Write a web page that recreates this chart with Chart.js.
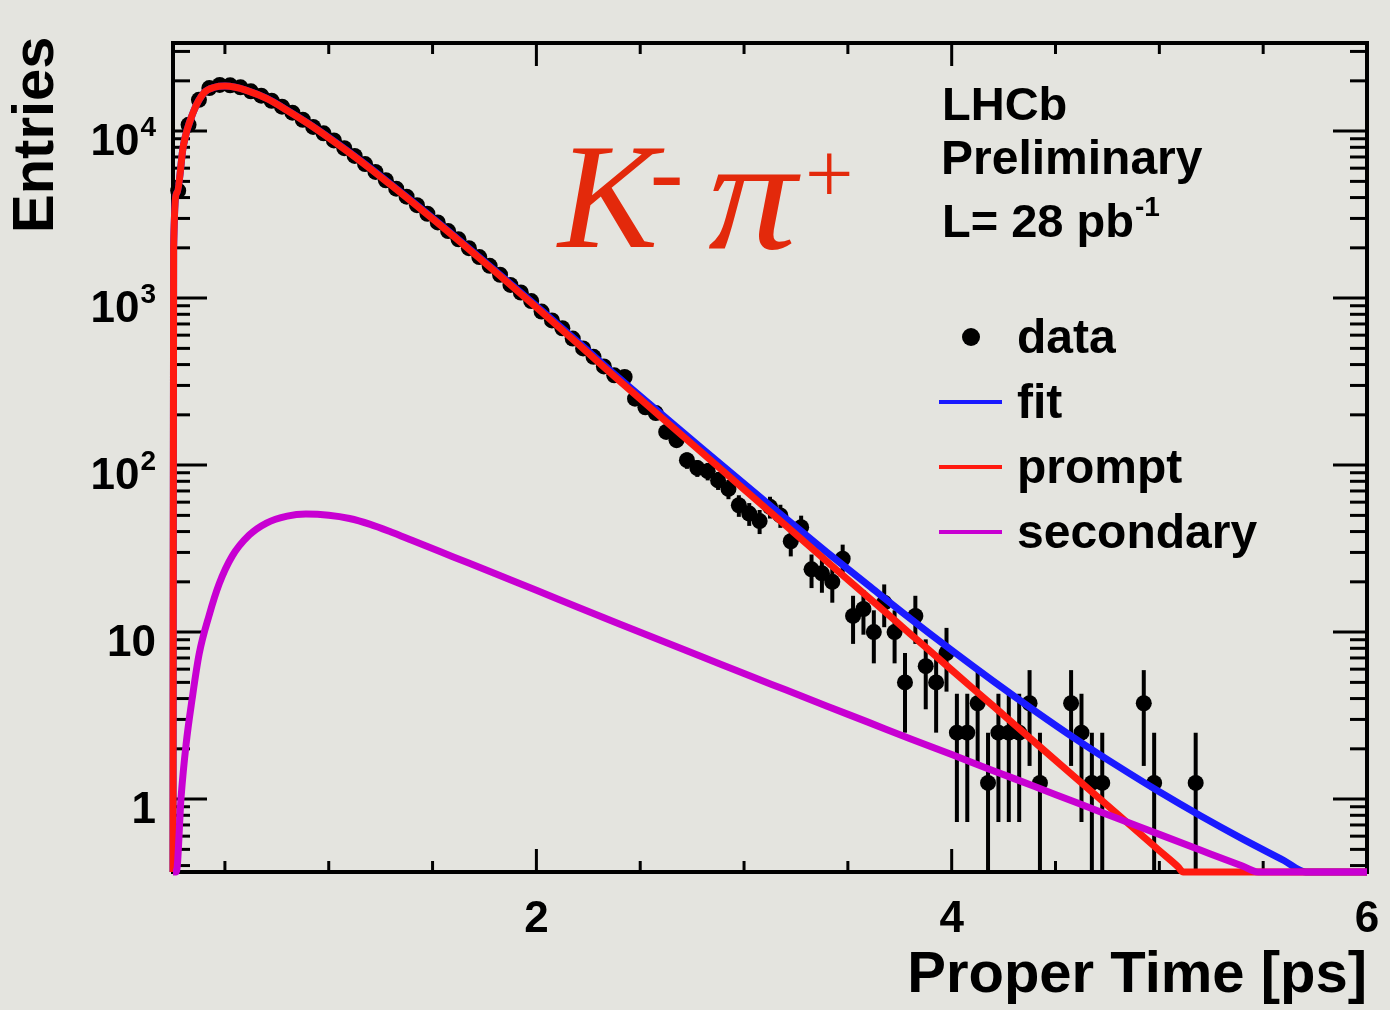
<!DOCTYPE html>
<html>
<head>
<meta charset="utf-8">
<script src="https://cdn.jsdelivr.net/npm/chart.js@4.4.1/dist/chart.umd.min.js"></script>
<style>
  html, body { margin: 0; padding: 0; background: #e4e4df; }
  canvas { display: block; }
</style>
</head>
<body>
<canvas id="myChart" width="1390" height="1010"></canvas>
<script>
// binned data (bin width 0.05 ps), empty bins left out
const dataTime = [
  0.275, 0.325, 0.375, 0.425, 0.475, 0.525, 0.575, 0.625, 0.675, 0.725,
  0.775, 0.825, 0.875, 0.925, 0.975, 1.025, 1.075, 1.125, 1.175, 1.225,
  1.275, 1.325, 1.375, 1.425, 1.475, 1.525, 1.575, 1.625, 1.675, 1.725,
  1.775, 1.825, 1.875, 1.925, 1.975, 2.025, 2.075, 2.125, 2.175, 2.225,
  2.275, 2.325, 2.375, 2.425, 2.475, 2.525, 2.575, 2.625, 2.675, 2.725,
  2.775, 2.825, 2.875, 2.925, 2.975, 3.025, 3.075, 3.125, 3.175, 3.225,
  3.275, 3.325, 3.375, 3.425, 3.475, 3.525, 3.575, 3.625, 3.675, 3.725,
  3.775, 3.825, 3.875, 3.925, 3.975, 4.025, 4.075, 4.125, 4.175, 4.225,
  4.275, 4.325, 4.375, 4.425, 4.575, 4.625, 4.675, 4.725, 4.925, 4.975,
  5.175
];
const dataCount = [
  4400, 10900, 15400, 18100, 18900, 18800, 18300, 17300, 16300, 15200,
  14000, 12900, 11700, 10600, 9700, 8800, 7900, 7100, 6350, 5700,
  5080, 4520, 4050, 3600, 3200, 2840, 2520, 2250, 1990, 1760,
  1560, 1380, 1200, 1080, 960, 830, 735, 660, 572, 500,
  445, 390, 345, 337, 250, 222, 205, 158, 141, 107,
  96, 92, 81, 72, 57.5, 51.25, 46.25, 56.25, 50, 35,
  42.5, 23.75, 22.5, 20, 27.5, 12.5, 13.75, 10, 15, 10,
  5, 12.5, 6.25, 5, 7.5, 2.5, 2.5, 3.75, 1.25, 2.5,
  2.5, 2.5, 3.75, 1.25, 3.75, 2.5, 1.25, 1.25, 3.75, 1.25,
  1.25
];
const dataError = [
  74, 117, 139, 150, 154, 153, 151, 147, 143, 138,
  132, 127, 121, 115, 110, 105, 99, 94, 89, 84,
  80, 75, 71, 67, 63, 60, 56, 53, 50, 47,
  44, 42, 39, 37, 35, 32, 30, 29, 27, 25,
  24, 22, 21, 21, 18, 17, 16, 14, 13, 12,
  11, 11, 10, 9.5, 8.5, 8, 7.6, 8.4, 7.9, 6.6,
  7.3, 5.4, 5.3, 5, 5.9, 4, 4.1, 3.5, 4.3, 3.5,
  2.5, 4, 2.8, 2.5, 3.1, 1.77, 1.77, 2.17, 1.25, 1.77,
  1.77, 1.77, 2.17, 1.25, 2.17, 1.77, 1.25, 1.25, 2.17, 1.25,
  1.25
];

// fitted curves (values under the axis floor sit on it)
const promptTime = [
  0.25, 0.253, 0.27, 0.30, 0.35, 0.40, 0.45, 0.50, 0.55, 0.60,
  0.70, 0.80, 0.90, 1.00, 1.10, 1.20, 1.30, 1.40, 1.50, 1.60,
  1.80, 2.00, 2.20, 2.40, 2.60, 2.80, 3.00, 3.20, 3.40, 3.60,
  3.80, 4.00, 4.20, 4.40, 4.60, 4.80, 5.00, 5.09, 5.115, 6.00
];
const promptValue = [
  0.366, 2000, 4300, 8200, 13200, 17000, 18300, 18600, 18300, 17600,
  15700, 13300, 11100, 9120, 7410, 5960, 4750, 3780, 2990, 2355,
  1445, 881, 532, 319, 194, 118, 71.6, 43.5, 26.4, 16.1,
  9.77, 5.93, 3.61, 2.19, 1.33, 0.809, 0.491, 0.393, 0.366, 0.366
];
const secondaryTime = [
  0.25, 0.266, 0.289, 0.313, 0.342, 0.376, 0.424, 0.472, 0.535, 0.617,
  0.70, 0.80, 0.89, 1.00, 1.10, 1.20, 1.30, 1.40, 1.60, 1.80,
  2.00, 2.20, 2.40, 2.60, 2.80, 3.00, 3.20, 3.40, 3.60, 3.80,
  4.00, 4.20, 4.40, 4.60, 4.80, 5.00, 5.20, 5.40, 5.475, 6.00
];
const secondaryValue = [
  0.366, 0.366, 1.03, 2.13, 3.97, 7.4, 12.6, 19.4, 28.5, 38.1,
  45, 49.5, 50.9, 50.1, 47.9, 44.2, 39.8, 35.5, 28.2, 22.4,
  17.8, 14.1, 11.2, 8.91, 7.10, 5.65, 4.51, 3.60, 2.88, 2.30,
  1.85, 1.48, 1.19, 0.953, 0.766, 0.615, 0.494, 0.397, 0.366, 0.366
];
const fitTime = [
  0.25, 0.253, 0.27, 0.30, 0.35, 0.40, 0.45, 0.50, 0.55, 0.60,
  0.70, 0.80, 0.90, 1.00, 1.10, 1.20, 1.30, 1.40, 1.50, 1.60,
  1.80, 2.00, 2.20, 2.40, 2.60, 2.80, 3.00, 3.20, 3.40, 3.60,
  3.80, 4.00, 4.20, 4.40, 4.60, 4.80, 5.00, 5.20, 5.40, 5.60,
  5.705, 6.00
];
const fitValue = [
  0.366, 2000, 4300, 8202, 13205, 17010, 18316, 18623, 18330, 17636,
  15745, 13350, 11151, 9170, 7458, 6004, 4790, 3816, 3022, 2383,
  1467, 899, 546, 330, 203, 125, 77.3, 48.0, 30.0, 19.0,
  12.07, 7.78, 5.09, 3.38, 2.28, 1.575, 1.106, 0.792, 0.578, 0.429,
  0.366, 0.366
];

const xMajorTicks = [2, 4, 6];
const xMinorTicks = [0.5, 1, 1.5, 2.5, 3, 3.5, 4.5, 5, 5.5];
const yMajorTicks = [1, 10, 100, 1000, 10000];
const yTickBase = ['1', '10', '10', '10', '10'];
const yTickExp = ['', '', '2', '3', '4'];

const legendLabels = ['data', 'fit', 'prompt', 'secondary'];
const legendColors = ['#000000', '#1a1aff', '#ff1a10', '#c800d2'];

const toPoints = (xs, ys) => xs.map((x, i) => ({ x: x, y: ys[i] }));

const SANS = '"Liberation Sans", Arial, Helvetica, sans-serif';
const SERIF = '"Liberation Serif", "Times New Roman", serif';

function line(c, x1, y1, x2, y2) {
  c.beginPath();
  c.moveTo(x1, y1);
  c.lineTo(x2, y2);
  c.stroke();
}

const rootStyle = {
  id: 'rootStyle',
  beforeDraw(chart) {
    const c = chart.ctx;
    c.save();
    c.fillStyle = '#e4e4df';
    c.fillRect(0, 0, chart.width, chart.height);
    c.restore();
  },
  beforeDatasetsDraw(chart) {
    const c = chart.ctx;
    const a = chart.chartArea;
    const x = chart.scales.x;
    const y = chart.scales.y;
    c.save();
    c.strokeStyle = '#000';
    c.lineCap = 'butt';

    // error bars
    c.lineWidth = 4;
    for (let i = 0; i < dataTime.length; i++) {
      const px = x.getPixelForValue(dataTime[i]);
      const lo = dataCount[i] - dataError[i];
      const yLo = lo > y.min ? y.getPixelForValue(lo) : a.bottom;
      const yHi = y.getPixelForValue(dataCount[i] + dataError[i]);
      line(c, px, yLo, px, yHi);
    }

    // frame
    c.lineWidth = 4;
    c.strokeRect(a.left, a.top, a.right - a.left, a.bottom - a.top);

    // ticks, inside the frame on all sides
    c.lineWidth = 3;
    xMajorTicks.forEach((v) => {
      const px = x.getPixelForValue(v);
      line(c, px, a.bottom, px, a.bottom - 23);
      line(c, px, a.top, px, a.top + 23);
    });
    xMinorTicks.forEach((v) => {
      const px = x.getPixelForValue(v);
      line(c, px, a.bottom, px, a.bottom - 11);
      line(c, px, a.top, px, a.top + 11);
    });
    yMajorTicks.forEach((v) => {
      const py = y.getPixelForValue(v);
      line(c, a.left, py, a.left + 34, py);
      line(c, a.right, py, a.right - 34, py);
    });
    for (let e = -1; e <= 4; e++) {
      for (let m = 2; m <= 9; m++) {
        const v = m * Math.pow(10, e);
        if (v < y.min || v > y.max) continue;
        const py = y.getPixelForValue(v);
        line(c, a.left, py, a.left + 17, py);
        line(c, a.right, py, a.right - 17, py);
      }
    }
    c.restore();
  },
  afterDatasetsDraw(chart) {
    const c = chart.ctx;
    const a = chart.chartArea;
    const x = chart.scales.x;
    const y = chart.scales.y;
    c.save();
    c.fillStyle = '#000';
    c.textBaseline = 'alphabetic';

    // x tick labels
    c.font = 'bold 44px ' + SANS;
    c.textAlign = 'center';
    xMajorTicks.forEach((v) => {
      c.fillText(String(v), x.getPixelForValue(v), 932);
    });

    // y tick labels with superscript exponents
    c.textAlign = 'right';
    yMajorTicks.forEach((v, i) => {
      const py = y.getPixelForValue(v);
      let right = 156;
      if (yTickExp[i]) {
        c.font = 'bold 28px ' + SANS;
        c.fillText(yTickExp[i], right, py + 5);
        right -= c.measureText(yTickExp[i]).width + 1;
      }
      c.font = 'bold 44px ' + SANS;
      c.fillText(yTickBase[i], right, py + 24);
    });

    // axis titles
    c.font = 'bold 58px ' + SANS;
    c.textAlign = 'right';
    c.fillText('Proper Time [ps]', a.right, 992);
    c.save();
    c.translate(53, 233);
    c.rotate(-Math.PI / 2);
    c.textAlign = 'left';
    c.fillText('Entries', 0, 0);
    c.restore();

    // experiment label
    c.textAlign = 'left';
    c.font = 'bold 47px ' + SANS;
    c.fillText('LHCb', 942, 120);
    c.font = 'bold 48px ' + SANS;
    c.fillText('Preliminary', 941, 174);
    c.font = 'bold 47px ' + SANS;
    c.fillText('L= 28 pb', 942, 237);
    const w = c.measureText('L= 28 pb').width;
    c.font = 'bold 28px ' + SANS;
    c.fillText('-1', 942 + w + 1, 216);

    // legend
    const rows = [337, 402, 467, 532];
    c.font = 'bold 48px ' + SANS;
    legendLabels.forEach((label, i) => {
      if (i === 0) {
        c.beginPath();
        c.arc(971, rows[i], 9, 0, Math.PI * 2);
        c.fill();
      } else {
        c.strokeStyle = legendColors[i];
        c.lineWidth = 4;
        line(c, 939, rows[i], 1002, rows[i]);
      }
      c.fillText(label, 1017, rows[i] + 16);
    });

    // decay channel
    c.fillStyle = '#e3290b';
    c.font = 'italic 150px ' + SERIF;
    c.fillText('K', 558, 247);
    c.save();
    c.translate(708, 248);
    c.scale(1.18, 1.08);
    c.font = 'italic 150px ' + SERIF;
    c.fillText('\u03C0', 0, 0);
    c.restore();
    c.font = 'italic 100px ' + SERIF;
    c.fillText('-', 650, 205);
    c.font = '86px ' + SERIF;
    c.fillText('+', 805, 203);
    c.restore();
  }
};

const ctx = document.getElementById('myChart').getContext('2d');
const lineStyle = {
  showLine: true,
  pointRadius: 0,
  borderWidth: 7,
  fill: false,
  cubicInterpolationMode: 'monotone',
  clip: false
};

new Chart(ctx, {
  type: 'scatter',
  data: {
    datasets: [
      Object.assign({ label: 'secondary', data: toPoints(secondaryTime, secondaryValue), borderColor: '#c800d2', order: 1 }, lineStyle),
      Object.assign({ label: 'prompt', data: toPoints(promptTime, promptValue), borderColor: '#ff1a10', order: 2 }, lineStyle),
      Object.assign({ label: 'fit', data: toPoints(fitTime, fitValue), borderColor: '#1a1aff', order: 3 }, lineStyle),
      {
        label: 'data',
        data: toPoints(dataTime, dataCount),
        showLine: false,
        pointRadius: 8,
        pointBackgroundColor: '#000',
        pointBorderWidth: 0,
        order: 4,
        clip: false
      }
    ]
  },
  options: {
    responsive: false,
    animation: false,
    devicePixelRatio: 1,
    events: [],
    layout: { padding: { left: 173, right: 23, top: 43, bottom: 138 } },
    scales: {
      x: { type: 'linear', min: 0.25, max: 6, display: false },
      y: { type: 'logarithmic', min: 0.366, max: 33700, display: false }
    },
    plugins: {
      legend: { display: false },
      tooltip: { enabled: false }
    }
  },
  plugins: [rootStyle]
});
</script>
</body>
</html>
